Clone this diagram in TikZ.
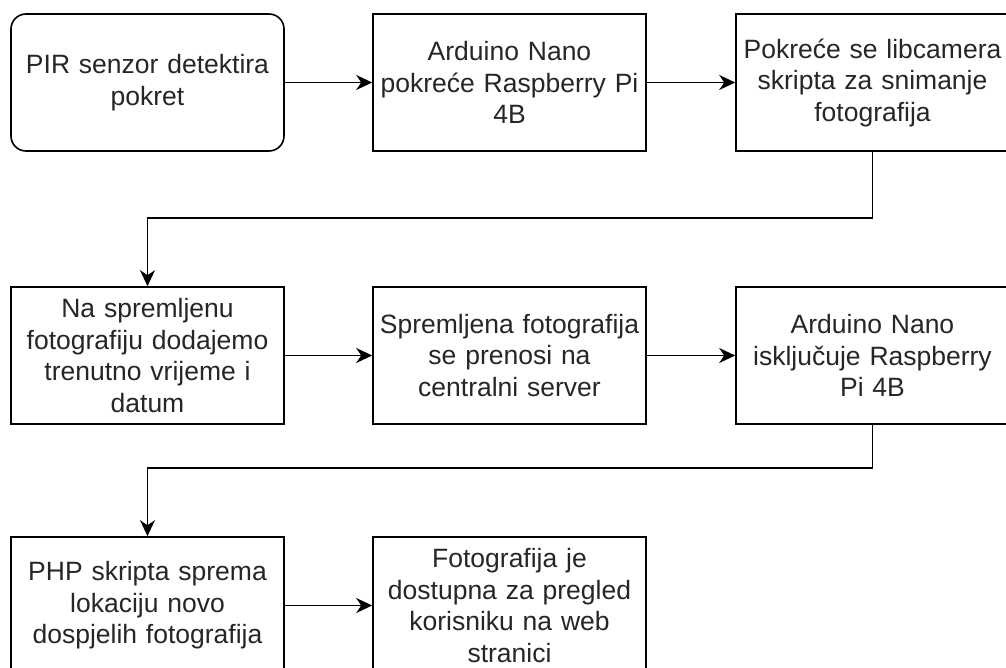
\documentclass[tikz,border=0pt]{standalone}
\usepackage{fontspec}
\setmainfont{Liberation Sans}
\usetikzlibrary{arrows.meta}
\begin{document}
\begin{tikzpicture}[x=1pt,y=-1pt,
  box/.style={draw=black, line width=1.6pt, rectangle, minimum width=273pt, minimum height=137pt,
    inner sep=0pt, align=center, text width=268pt, text=black!85,
    font=\fontsize{26.5pt}{31.5pt}\selectfont},
  rbox/.style={box, rounded corners=15pt},
  arr/.style={line width=1.6pt, -{Stealth[length=16pt,width=15pt,inset=5pt]}}]
\useasboundingbox (0,0) rectangle (1006,668);
\clip (0,0) rectangle (1006,668);
\fill[white] (0,0) rectangle (1006,668);
\node[rbox] (b1) at (147.5,82.5) {PIR senzor detektira\\pokret};
\node[box] (b2) at (509.5,82.5) {Arduino Nano\\pokreće Raspberry Pi\\4B};
\node[box] (b3) at (872.5,82.5) {Pokreće se libcamera\\skripta za snimanje\\fotografija};
\node[box] (b4) at (147.5,355.5) {Na spremljenu\\fotografiju dodajemo\\trenutno vrijeme i\\datum};
\node[box] (b5) at (509.5,355.5) {Spremljena fotografija\\se prenosi na\\centralni server};
\node[box] (b6) at (872.5,355.5) {Arduino Nano\\isključuje Raspberry\\Pi 4B};
\node[box] (b7) at (147.5,605.5) {PHP skripta sprema\\lokaciju novo\\dospjelih fotografija};
\node[box] (b8) at (509.5,605.5) {Fotografija je\\dostupna za pregled\\korisniku na web\\stranici};
\coordinate (c1) at (872.5,218);
\coordinate (c2) at (147.5,218);
\coordinate (c3) at (872.5,468);
\coordinate (c4) at (147.5,468);
\draw[arr] (b1.east) -- (b2.west);
\draw[arr] (b2.east) -- (b3.west);
\draw[arr] (b3.south) -- (c1) -- (c2) -- (b4.north);
\draw[arr] (b4.east) -- (b5.west);
\draw[arr] (b5.east) -- (b6.west);
\draw[arr] (b6.south) -- (c3) -- (c4) -- (b7.north);
\draw[arr] (b7.east) -- (b8.west);
\end{tikzpicture}
\end{document}
